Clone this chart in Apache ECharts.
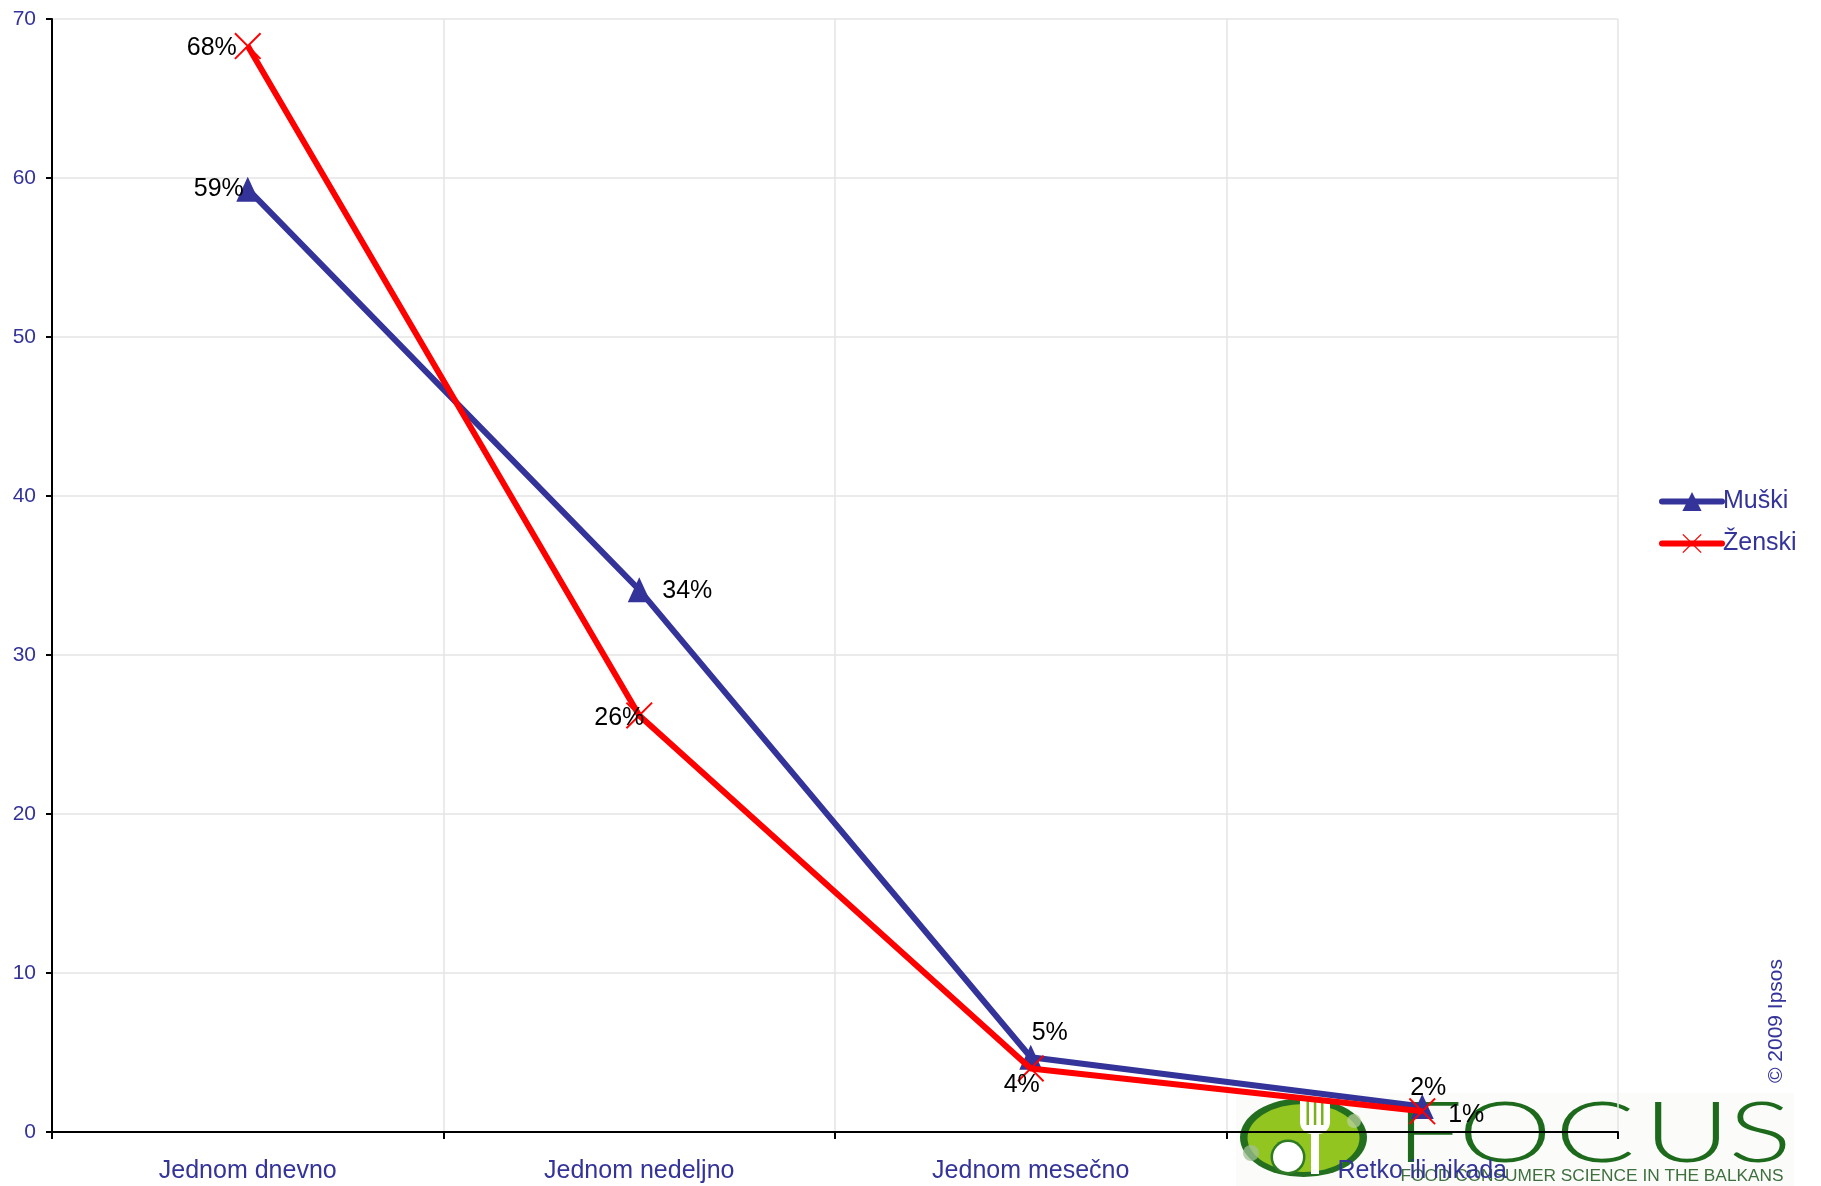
<!DOCTYPE html>
<html>
<head>
<meta charset="utf-8">
<title>Učestalost po polu</title>
<script src="https://cdn.jsdelivr.net/npm/echarts@6/dist/echarts.min.js"></script>
<style>
  html, body { margin: 0; padding: 0; background: #ffffff; }
  #chart { width: 1821px; height: 1186px; }
</style>
</head>
<body>
<div id="chart"></div>
<script>
// Categories and values (percent)
const categories = ['Jednom dnevno', 'Jednom nedeljno', 'Jednom mesečno', 'Retko ili nikada'];
const muski = [59.3, 34.1, 4.7, 1.6];
const zenski = [68.3, 26.2, 4.0, 1.3];
const seriesNames = ['Muški', 'Ženski'];

// Y axis range
const yMin = 0;
const yMax = 70;
const yStep = 10;

// Label offsets from each point (pixels)
const muskiLabelOffsets = [[-29, 0], [48, 1], [19, -24], [6, -18]];
const zenskiLabelOffsets = [[-36, 2], [-20, 3], [-9, 17], [44, 4]];

const BLUE = '#333399';
const RED = '#ff0000';
const FONT = '"Liberation Sans", Arial, sans-serif';
const LOGO_DARK = '#1d6a1d';

const crossPath = 'path://M0,5L5,0L100,95L95,100Z M95,0L100,5L5,100L0,95Z';

function buildData(values, offsets) {
  return values.map((v, i) => ({
    value: v,
    label: { offset: offsets[i] }
  }));
}

const labelStyle = {
  show: true,
  position: 'inside',
  color: '#000000',
  fontFamily: FONT,
  fontSize: 25,
  formatter: p => Math.round(p.value) + '%'
};

const chart = echarts.init(document.getElementById('chart'), null, { renderer: 'canvas' });

// Logo in the lower right corner, drawn behind the plot
const logo = [
  { type: 'rect', z: -20, shape: { x: 1236, y: 1093, width: 558, height: 93 }, style: { fill: '#fbfcf9' } },
  { type: 'circle', z: -19, x: 1303.5, y: 1137.5, scaleX: 63.5 / 39.5, shape: { cx: 0, cy: 0, r: 39.5 }, style: { fill: '#236f1f' } },
  { type: 'circle', z: -18, x: 1303.5, y: 1138, scaleX: 56 / 34, shape: { cx: 0, cy: 0, r: 34 }, style: { fill: '#93c520' } },
  { type: 'circle', z: -17, shape: { cx: 1251, cy: 1153, r: 8 }, style: { fill: '#9fbf94', opacity: 0.75 } },
  { type: 'circle', z: -17, shape: { cx: 1354, cy: 1121, r: 7 }, style: { fill: '#b5cf98', opacity: 0.75 } },
  { type: 'circle', z: -16, shape: { cx: 1288, cy: 1157, r: 17.5 }, style: { fill: '#2f7a24' } },
  { type: 'circle', z: -15, shape: { cx: 1288, cy: 1157, r: 15 }, style: { fill: '#ffffff' } },
  { type: 'rect', z: -15, shape: { x: 1300, y: 1098, width: 30, height: 36, r: [0, 0, 12, 12] }, style: { fill: '#ffffff' } },
  { type: 'rect', z: -14, shape: { x: 1306.5, y: 1098, width: 2.5, height: 27 }, style: { fill: '#7db01c' } },
  { type: 'rect', z: -14, shape: { x: 1313.8, y: 1098, width: 2.5, height: 27 }, style: { fill: '#7db01c' } },
  { type: 'rect', z: -14, shape: { x: 1321, y: 1098, width: 2.5, height: 27 }, style: { fill: '#7db01c' } },
  { type: 'rect', z: -15, shape: { x: 1311, y: 1130, width: 8, height: 44 }, style: { fill: '#ffffff' } }
];

const focusLetters = ['F', 'O', 'C', 'U', 'S'];
const focusCenters = [1429, 1505, 1595, 1687, 1760];
focusLetters.forEach((ch, i) => {
  logo.push({
    type: 'text', z: -14, x: focusCenters[i], y: 1135, scaleX: 1.4,
    style: {
      text: ch, fill: LOGO_DARK, fontFamily: 'Lato, "DejaVu Sans", sans-serif', fontWeight: 300,
      fontSize: 85, align: 'center', verticalAlign: 'middle'
    }
  });
});
logo.push({
  type: 'text', z: -14, x: 1592, y: 1177, scaleX: 1.08,
  style: {
    text: 'FOOD CONSUMER SCIENCE IN THE BALKANS', fill: '#3f6f3f', fontFamily: FONT,
    fontSize: 16, align: 'center', verticalAlign: 'middle'
  }
});

const option = {
  backgroundColor: '#ffffff',
  animation: false,
  grid: { left: 52, right: 203, top: 19, bottom: 54, containLabel: false },
  legend: {
    orient: 'vertical',
    left: 1654,
    top: 484,
    itemWidth: 60,
    itemHeight: 24,
    itemGap: 17,
    lineStyle: { width: 6, cap: 'round' },
    textStyle: { color: BLUE, fontFamily: FONT, fontSize: 25, padding: [0, 0, 0, -4] },
    data: seriesNames
  },
  xAxis: {
    type: 'category',
    data: categories,
    boundaryGap: true,
    axisLine: { lineStyle: { color: '#000000', width: 2 } },
    axisTick: { show: true, length: 7, lineStyle: { color: '#000000', width: 2 } },
    axisLabel: { color: BLUE, fontFamily: FONT, fontSize: 25, margin: 27 },
    splitLine: { show: true, lineStyle: { color: '#e4e4e4', width: 1.5 } }
  },
  yAxis: {
    type: 'value',
    min: yMin,
    max: yMax,
    interval: yStep,
    axisLine: { show: true, lineStyle: { color: '#000000', width: 2 } },
    axisTick: { show: true, length: 6, lineStyle: { color: '#000000', width: 2 } },
    axisLabel: { color: BLUE, fontFamily: FONT, fontSize: 21, margin: 16 },
    splitLine: { show: true, lineStyle: { color: '#e4e4e4', width: 1.5 } }
  },
  graphic: logo.concat([
    {
      type: 'text', x: 1776, y: 1021, rotation: Math.PI / 2,
      style: {
        text: '© 2009 Ipsos', fill: BLUE, fontFamily: FONT, fontSize: 21,
        align: 'center', verticalAlign: 'middle'
      }
    }
  ]),
  series: [
    {
      name: seriesNames[0],
      type: 'line',
      data: buildData(muski, muskiLabelOffsets),
      symbol: 'triangle',
      symbolSize: [23, 25],
      itemStyle: { color: BLUE },
      lineStyle: { color: BLUE, width: 6 },
      label: labelStyle,
      z: 3
    },
    {
      name: seriesNames[1],
      type: 'line',
      data: buildData(zenski, zenskiLabelOffsets),
      symbol: crossPath,
      symbolSize: 27,
      itemStyle: { color: RED },
      lineStyle: { color: RED, width: 6 },
      label: labelStyle,
      z: 4
    }
  ]
};

chart.setOption(option);
</script>
</body>
</html>
